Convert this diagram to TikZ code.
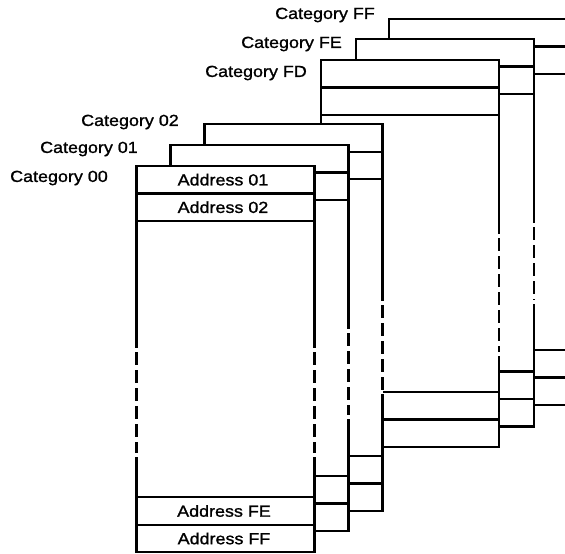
\documentclass[tikz,border=0pt]{standalone}
\usepackage{fontspec}
\newfontfamily\lblfont[FakeStretch=1.12,FakeBold=1.2]{Liberation Sans}
\tikzset{
  edge/.style={line width=2.2pt, line cap=rect, line join=miter},
  dashseg/.style={fill=black},
  rowline/.style={line width=2.2pt},
  lbl/.style={font=\lblfont\fontsize{16pt}{18pt}\selectfont, inner sep=0pt, anchor=east},
  addr/.style={font=\lblfont\fontsize{16pt}{18pt}\selectfont, inner sep=0pt, anchor=center},
}
% \dashcol{x}{start}{second}{end}
\newcommand{\dashcol}[4]{%
  \foreach \dy in {#2,#3,...,#4}{%
    \pgfmathsetmacro\dyend{min(\dy+13,#4)}%
    \pgfmathsetmacro\dxa{#1-1.4}%
    \pgfmathsetmacro\dxb{#1+1.4}%
    \fill[dashseg] (\dxa,\dy) rectangle (\dxb,\dyend);
  }%
}
% \sheet{left}{top}{bottom}{dash start}{dash end}
\newcommand{\sheet}[5]{%
  \pgfmathsetmacro\shR{#1+178}%
  \pgfmathsetmacro\shA{#2+27.5}%
  \pgfmathsetmacro\shB{#2+55}%
  \pgfmathsetmacro\shC{#3-55}%
  \pgfmathsetmacro\shD{#3-27.5}%
  \pgfmathsetmacro\dsA{#4+5}%
  \pgfmathsetmacro\dsB{#4+23}%
  \pgfmathsetmacro\dsE{#5-5}%
  \fill[white] (#1,#2) rectangle (\shR,#3);
  \draw[edge] (#1,#4) -- (#1,#2) -- (\shR,#2) -- (\shR,#4);
  \dashcol{#1}{\dsA}{\dsB}{\dsE}
  \dashcol{\shR}{\dsA}{\dsB}{\dsE}
  \draw[edge] (#1,#5) -- (#1,#3) -- (\shR,#3) -- (\shR,#5);
  \draw[rowline] (#1,\shA) -- (\shR,\shA);
  \draw[rowline] (#1,\shB) -- (\shR,\shB);
  \draw[rowline] (#1,\shC) -- (\shR,\shC);
  \draw[rowline] (#1,\shD) -- (\shR,\shD);
}
\begin{document}
\begin{tikzpicture}[x=1pt,y=-1pt]
\clip (0,0) rectangle (565,554);
\fill[white] (0,0) rectangle (565,554);
% back to front
\sheet{389}{19}{405}{200}{300}
\sheet{356}{39}{426.5}{222}{305}
\sheet{321}{60}{447}{233}{357}
\sheet{204.5}{124.3}{511}{300}{395}
\sheet{170.5}{145}{531}{328}{420}
\sheet{136.5}{166}{552.3}{347}{458}
% labels
\node[lbl] (cff) at (375,15) {Category FF};
\node[lbl] (cfe) at (342,44) {Category FE};
\node[lbl] (cfd) at (307,73) {Category FD};
\node[lbl] (c02) at (179,122) {Category 02};
\node[lbl] (c01) at (138,149) {Category 01};
\node[lbl] (c00) at (108,178) {Category 00};
% addresses
\node[addr] (a01) at (223,179.7) {Address 01};
\node[addr] (a02) at (223,207.2) {Address 02};
\node[addr] (afe) at (224,511) {Address FE};
\node[addr] (aff) at (224,538.5) {Address FF};
\end{tikzpicture}
\end{document}
